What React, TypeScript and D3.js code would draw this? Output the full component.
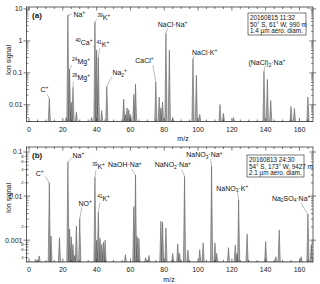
import React from "react";
import * as d3 from "d3";

// ---------- DATA ----------
const massesA = [12, 22, 23, 24, 25, 26, 28, 37, 39, 40, 41, 43, 46, 56, 57, 58, 59, 60, 62, 63, 75, 77, 78, 79, 81, 83, 85, 97, 99, 101, 113, 115, 121, 139, 141, 143, 155, 157, 165];
const signalA = [0.0159, 0.004, 6.45, 0.129, 0.012, 0.035, 0.0058, 0.004, 3.99, 0.513, 0.309, 0.0066, 0.037, 0.015, 0.005, 0.008, 0.007, 0.005, 0.021, 0.044, 0.052, 0.0174, 0.008, 0.012, 1.72, 0.513, 0.004, 0.281, 0.084, 0.005, 0.0103, 0.0054, 0.004, 0.112, 0.0629, 0.0137, 0.0089, 0.0077, 0.0174];

const massesB = [4, 6, 12, 13, 18, 23, 24, 25, 26, 27, 28, 30, 39, 40, 41, 42, 43, 44, 45, 57, 62, 63, 64, 65, 69, 71, 78, 79, 81, 85, 88, 89, 92, 94, 101, 103, 108, 110, 111, 118, 122, 123, 124, 129, 140, 146, 148, 161, 165, 167];
const signalB = [0.00037, 0.00044, 0.02, 0.00125, 0.00114, 0.06, 0.0018, 0.0012, 0.0008, 0.00045, 0.0021, 0.0031, 0.0267, 0.001, 0.0044, 0.0011, 0.0008, 0.0009, 0.001, 0.00047, 0.0058, 0.03, 0.00121, 0.0011, 0.0004, 0.00045, 0.0027, 0.0026, 0.0019, 0.0005, 0.00082, 0.0005, 0.028, 0.0006, 0.00061, 0.00087, 0.048, 0.00087, 0.0005, 0.00068, 0.00078, 0.0005, 0.0082, 0.00139, 0.00093, 0.00042, 0.0017, 0.00042, 0.0039, 0.00078];

const annotTextA = ["C^{+}", "Na^{+}", "^{24}Mg^{+}", "^{26}Mg^{+}", "^{39}K^{+}", "^{40}Ca^{+}", "^{41}K^{+}", "Na_{2}^{+}", "CaCl^{+}", "NaCl·Na^{+}", "NaCl·K^{+}", "(NaCl)_{2}·Na^{+}"];
const annotMassA = [12, 23, 24, 26, 39, 40, 41, 46, 75, 81, 97, 139];

const annotTextB = ["C^{+}", "Na^{+}", "NO^{+}", "^{39}K^{+}", "^{41}K^{+}", "NaOH·Na^{+}", "NaNO_{2}·Na^{+}", "NaNO_{3}·Na^{+}", "NaNO_{3}·K^{+}", "Na_{2}SO_{4}·Na^{+}"];
const annotMassB = [12, 23, 30, 39, 41, 63, 92, 108, 124, 165];

const legendA = ["20160815 11:32", "50° S, 61° W, 990 m", "1.4 µm aero. diam."];
const legendB = ["20160813 24:30", "54° S, 173° W, 9427 m", "2.1 µm  aero. diam."];

const xTicks = [0, 20, 40, 60, 80, 100, 120, 140, 160];
const yMajorA = [10, 1, 0.1, 0.01];
const yMajorLabelsA = ["10", "1", "0.1", "0.01"];
const yMajorB = [0.1, 0.01, 0.001];
const yMajorLabelsB = ["0.1", "0.01", "0.001"];
const yMinorLabelValsB = [0.08, 0.06, 0.04, 0.02, 0.002, 0.0008, 0.0006, 0.0004];
const yMinorLabelsB = ["8", "6", "4", "2", "2", "8", "6", "4"];

// ---------- LAYOUT (pixel offsets for annotation placement) ----------
type Lay = { dx: number; dy: number; anchor: "start" | "middle" | "end"; lx: number; ly: number };
const layA: Lay[] = [
  { dx: -5, dy: -6, anchor: "middle", lx: -2.5, ly: -4.5 },
  { dx: 5.5, dy: 1.8, anchor: "start", lx: 4, ly: -1 },
  { dx: 2.5, dy: -5, anchor: "start", lx: 2, ly: -4 },
  { dx: -0.8, dy: -7.5, anchor: "start", lx: 0.5, ly: -6 },
  { dx: 2.5, dy: -2, anchor: "start", lx: 2.5, ly: -2.5 },
  { dx: -4.2, dy: -4.8, anchor: "end", lx: -3.5, ly: -4 },
  { dx: -1.9, dy: -10.4, anchor: "start", lx: 1.5, ly: -9 },
  { dx: 5.6, dy: -11.8, anchor: "start", lx: 5, ly: -10 },
  { dx: -2.2, dy: -19, anchor: "end", lx: -3, ly: -17 },
  { dx: 6.6, dy: -6.6, anchor: "middle", lx: 1.5, ly: -5 },
  { dx: -1, dy: -4, anchor: "start", lx: 1.5, ly: -3 },
  { dx: 2.9, dy: -6.7, anchor: "middle", lx: 1, ly: -5 },
];
const layB: Lay[] = [
  { dx: -5.8, dy: -7.3, anchor: "end", lx: -4.5, ly: -7 },
  { dx: 4.6, dy: -4.3, anchor: "start", lx: 4, ly: -4 },
  { dx: -1.3, dy: -13, anchor: "start", lx: 2, ly: -11 },
  { dx: -2.8, dy: -8.3, anchor: "start", lx: 1, ly: -7 },
  { dx: -1.2, dy: -10.8, anchor: "start", lx: 1.5, ly: -9 },
  { dx: -10.7, dy: -7.6, anchor: "middle", lx: -4, ly: -6 },
  { dx: -11.8, dy: -8.9, anchor: "middle", lx: -3, ly: -7 },
  { dx: -7.3, dy: -8.6, anchor: "middle", lx: -1, ly: -7 },
  { dx: -6.4, dy: -9.4, anchor: "middle", lx: -1, ly: -7.5 },
  { dx: -16.8, dy: -13.6, anchor: "middle", lx: -7, ly: -11 },
];

const W = 320;
const H = 284;
const FONT = "'Liberation Sans', Arial, Helvetica, sans-serif";

type Part = { t: string; k: "n" | "sup" | "sub" };
function parseLabel(s: string): Part[] {
  const parts: Part[] = [];
  const re = /(\^|_)\{([^}]*)\}|([^^_]+)/g;
  let m: RegExpExecArray | null;
  while ((m = re.exec(s))) {
    if (m[3]) parts.push({ t: m[3], k: "n" });
    else parts.push({ t: m[2], k: m[1] === "^" ? "sup" : "sub" });
  }
  return parts;
}

function RichText({ text, x, y, anchor, size }: { text: string; x: number; y: number; anchor: string; size: number }) {
  const parts = parseLabel(text);
  let cur = 0;
  return (
    <text x={x} y={y} textAnchor={anchor as any} fontSize={size} fontFamily={FONT} fill="#111">
      {parts.map((p, i) => {
        const target = p.k === "sup" ? -size * 0.42 : p.k === "sub" ? size * 0.28 : 0;
        const dy = target - cur;
        cur = target;
        return (
          <tspan key={i} dy={dy} fontSize={p.k === "n" ? size : size * 0.68}>
            {p.t}
          </tspan>
        );
      })}
    </text>
  );
}

type PanelProps = {
  top: number;
  bottom: number;
  yDomain: [number, number];
  masses: number[];
  signals: number[];
  annotText: string[];
  annotMass: number[];
  lay: Lay[];
  yMajor: number[];
  yMajorLabels: string[];
  minorVals?: number[];
  minorLabels?: string[];
  legend: string[];
  legendBox: { x: number; y: number; w: number; h: number };
  tag: string;
  ylabelY: number;
  mzX: number;
};

const LEFT = 26.5;
const RIGHT = 313;

function Panel(p: PanelProps) {
  const x = d3.scaleLinear().domain([-1.5, 168]).range([LEFT, RIGHT]);
  const y = d3.scaleLog().domain(p.yDomain).range([p.bottom, p.top]).clamp(true);
  const floor = p.yDomain[0];
  const w = 0.65;
  const order = d3.range(p.masses.length).sort((a, b) => p.masses[a] - p.masses[b]);
  const pts: [number, number][] = [[-1.5, floor]];
  for (const i of order) {
    pts.push([p.masses[i] - w, floor], [p.masses[i], p.signals[i]], [p.masses[i] + w, floor]);
  }
  pts.push([168, floor]);
  const line = d3
    .line<[number, number]>()
    .x((d) => x(d[0]))
    .y((d) => y(Math.max(d[1], floor)));
  const path = line(pts) || "";

  const xMinor = d3.range(0, 168, 5);
  const minorY: number[] = [];
  for (let e = -5; e <= 2; e++) {
    for (let k = 1; k <= 9; k++) {
      const v = k * Math.pow(10, e);
      if (v >= p.yDomain[0] && v <= p.yDomain[1]) minorY.push(v);
    }
  }
  const sigOf = (m: number) => p.signals[p.masses.indexOf(m)];

  return (
    <g>
      <clipPath id={"clip" + p.tag}>
        <rect x={LEFT} y={p.top} width={RIGHT - LEFT} height={p.bottom - p.top} />
      </clipPath>
      <path d={path} fill="#acacac" stroke="#4a4a4a" strokeWidth={0.5} strokeLinejoin="miter" clipPath={`url(#clip${p.tag})`} />
      {/* frame */}
      <rect x={LEFT} y={p.top} width={RIGHT - LEFT} height={p.bottom - p.top} fill="none" stroke="#222" strokeWidth={0.7} />
      {/* x ticks */}
      {xMinor.map((t) => {
        const major = t % 20 === 0;
        const len = major ? 3.5 : 2;
        return (
          <g key={"xt" + t} stroke="#222" strokeWidth={0.6}>
            <line x1={x(t)} x2={x(t)} y1={p.bottom} y2={p.bottom - len} />
            <line x1={x(t)} x2={x(t)} y1={p.top} y2={p.top + len} />
          </g>
        );
      })}
      {xTicks.map((t) => (
        <text key={"xl" + t} x={x(t)} y={p.bottom + 10} textAnchor="middle" fontSize={7} fontFamily={FONT} fill="#222">
          {t}
        </text>
      ))}
      <text x={p.mzX} y={p.bottom + 19.5} textAnchor="middle" fontSize={7} fontFamily={FONT} fill="#111">
        m/z
      </text>
      {/* y ticks */}
      {minorY.map((v, i) => {
        const major = p.yMajor.some((m) => Math.abs(m - v) / v < 1e-6);
        const len = major ? 3.5 : 2;
        const out = major ? 3 : 0;
        return (
          <g key={"yt" + i} stroke="#222" strokeWidth={0.6}>
            <line x1={LEFT - out} x2={LEFT + len} y1={y(v)} y2={y(v)} />
            <line x1={RIGHT + out} x2={RIGHT - len} y1={y(v)} y2={y(v)} />
          </g>
        );
      })}
      {p.yMajor.map((v, i) => (
        <text key={"yl" + i} x={LEFT - 4} y={y(v) + 2.4} textAnchor="end" fontSize={7} fontFamily={FONT} fill="#222">
          {p.yMajorLabels[i]}
        </text>
      ))}
      {(p.minorVals || []).map((v, i) => (
        <g key={"ym" + i}>
          <line x1={LEFT - 2} x2={LEFT} y1={y(v)} y2={y(v)} stroke="#222" strokeWidth={0.5} />
          <text x={LEFT - 3} y={y(v) + 1.4} textAnchor="end" fontSize={4.2} fontFamily={FONT} fill="#222">
            {(p.minorLabels || [])[i]}
          </text>
        </g>
      ))}
      <text
        transform={`translate(10.5,${p.ylabelY}) rotate(-90)`}
        textAnchor="middle"
        fontSize={7}
        fontFamily={FONT}
        fill="#111"
      >
        Ion signal
      </text>
      {/* annotations */}
      {p.annotMass.map((m, i) => {
        const px = x(m);
        const py = y(sigOf(m));
        const L = p.lay[i];
        return (
          <g key={"an" + i}>
            {(L.lx !== 0 || L.ly !== 0) && (
              <line x1={px} y1={py} x2={px + L.lx} y2={py + L.ly} stroke="#777" strokeWidth={0.5} />
            )}
            <RichText text={p.annotText[i]} x={px + L.dx} y={py + L.dy} anchor={L.anchor} size={7} />
          </g>
        );
      })}
      {/* panel tag */}
      <text x={LEFT + 5.5} y={p.top + 11} fontSize={8} fontWeight="bold" fontFamily={FONT} fill="#111">
        ({p.tag})
      </text>
      {/* legend */}
      <rect x={p.legendBox.x} y={p.legendBox.y} width={p.legendBox.w} height={p.legendBox.h} fill="#fff" stroke="#222" strokeWidth={0.6} />
      {p.legend.map((s, i) => (
        <text key={"lg" + i} x={p.legendBox.x + 2} y={p.legendBox.y + 6.6 + i * 6.9} fontSize={6.3} fontFamily={FONT} fill="#111">
          {s}
        </text>
      ))}
    </g>
  );
}

export default function App() {
  return (
    <svg width={W} height={H} style={{ position: "absolute", left: 0, top: 0, background: "#fff" }}>
      <rect width={W} height={H} fill="#fff" />
      <Panel
        top={7}
        bottom={121.5}
        yDomain={[0.003, 11.5]}
        masses={massesA}
        signals={signalA}
        annotText={annotTextA}
        annotMass={annotMassA}
        lay={layA}
        yMajor={yMajorA}
        yMajorLabels={yMajorLabelsA}
        legend={legendA}
        legendBox={{ x: 248, y: 13, w: 58, h: 22 }}
        tag="a"
        ylabelY={60}
        mzX={183}
      />
      <Panel
        top={147}
        bottom={262}
        yDomain={[0.00032, 0.13]}
        masses={massesB}
        signals={signalB}
        annotText={annotTextB}
        annotMass={annotMassB}
        lay={layB}
        yMajor={yMajorB}
        yMajorLabels={yMajorLabelsB}
        minorVals={yMinorLabelValsB}
        minorLabels={yMinorLabelsB}
        legend={legendB}
        legendBox={{ x: 247, y: 155, w: 57, h: 22 }}
        tag="b"
        ylabelY={198}
        mzX={169}
      />
    </svg>
  );
}
